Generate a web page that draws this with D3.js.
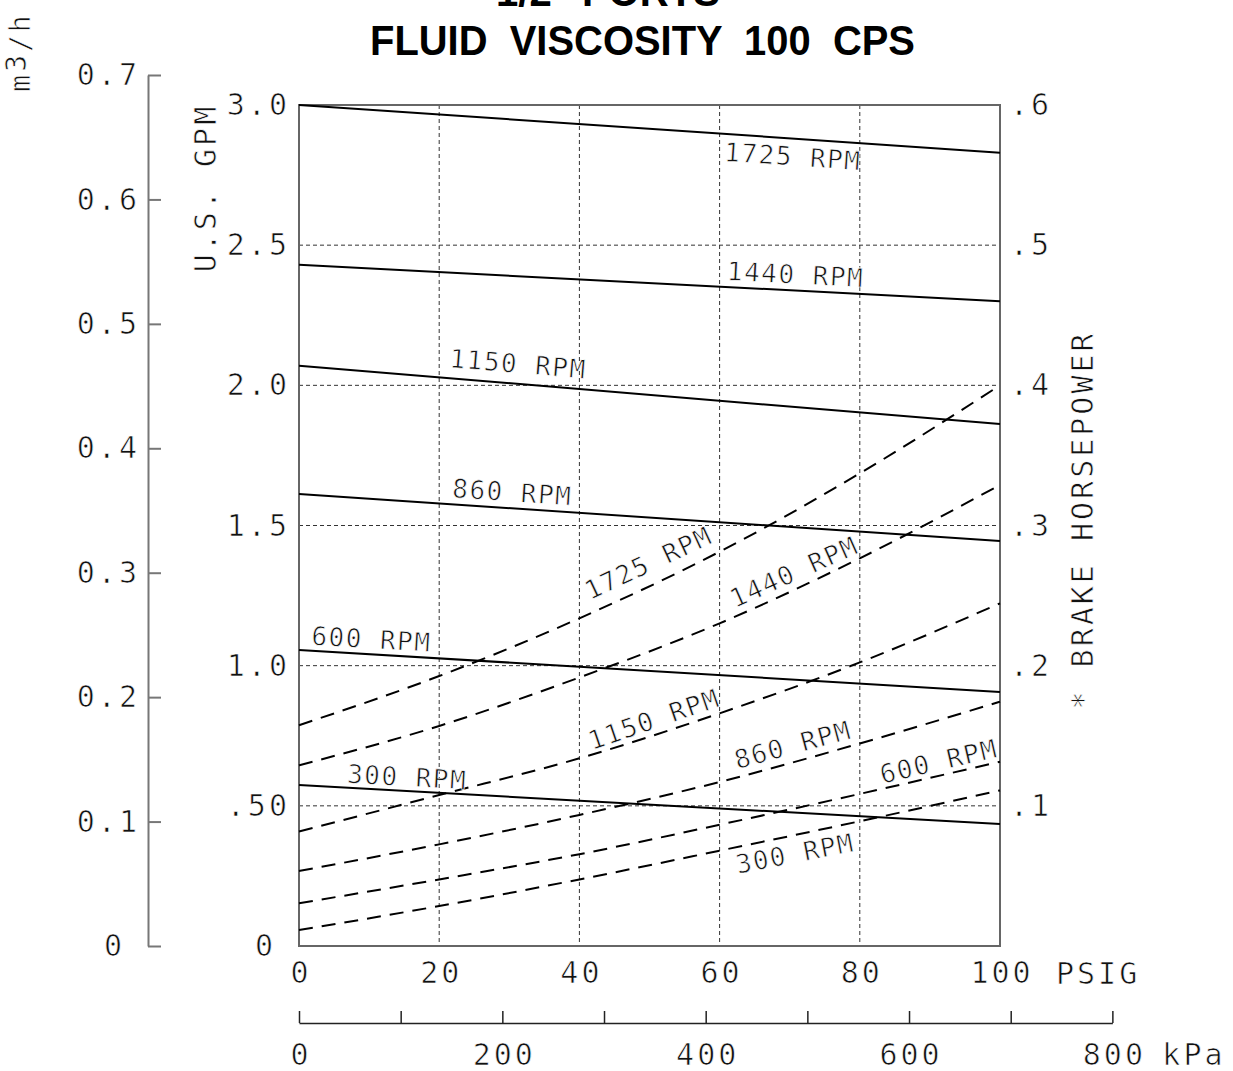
<!DOCTYPE html>
<html>
<head>
<meta charset="utf-8">
<script src="https://cdn.jsdelivr.net/npm/d3@7"></script>
<style>
  html, body { margin: 0; padding: 0; background: #fff; }
  svg { display: block; }
  .lbl { font-family: "DejaVu Sans Mono", "Liberation Mono", monospace; fill: #111;
         stroke: #fff; stroke-width: 0.7px; paint-order: fill stroke; }
</style>
</head>
<body>
<svg id="chart" width="1233" height="1071"></svg>
<script>
// ---------------- data ----------------
const titleLines = ['1/2" PORTS', 'FLUID  VISCOSITY  100  CPS'];
const rpmNames = ["1725", "1440", "1150", "860", "600", "300"];
// capacity (U.S. GPM) straight lines, value at 0 psi and 100 psi
const flowPsi = [0, 100];
const flow1725 = [3.00, 2.83];
const flow1440 = [2.43, 2.30];
const flow1150 = [2.07, 1.862];
const flow860  = [1.612, 1.445];
const flow600  = [1.056, 0.906];
const flow300  = [0.574, 0.435];
// brake horsepower curves
const hpPsi = [0, 20, 40, 60, 80, 100];
const hp1725 = [0.1575, 0.1926, 0.2338, 0.2813, 0.3372, 0.400];
const hp1440 = [0.1289, 0.1570, 0.1916, 0.2302, 0.2766, 0.3289];
const hp1150 = [0.0817, 0.1077, 0.1339, 0.1660, 0.2023, 0.2445];
const hp860  = [0.0535, 0.0725, 0.0935, 0.1170, 0.1445, 0.1743];
const hp600  = [0.0305, 0.0475, 0.0655, 0.0865, 0.1085, 0.1315];
const hp300  = [0.0114, 0.0285, 0.0475, 0.0680, 0.0890, 0.1110];
// axes
const psiTicks = [0, 20, 40, 60, 80, 100];
const psiGrid = [20, 40, 60, 80];
const gpmTicks = [0, 0.5, 1.0, 1.5, 2.0, 2.5, 3.0];
const gpmTickLabels = ["0", ".50", "1.0", "1.5", "2.0", "2.5", "3.0"];
const gpmGrid = [0.5, 1.0, 1.5, 2.0, 2.5];
const hpTicks = [0.1, 0.2, 0.3, 0.4, 0.5, 0.6];
const hpTickLabels = [".1", ".2", ".3", ".4", ".5", ".6"];
const m3Ticks = [0, 0.1, 0.2, 0.3, 0.4, 0.5, 0.6, 0.7];
const m3TickLabels = ["0", "0.1", "0.2", "0.3", "0.4", "0.5", "0.6", "0.7"];
const kpaTicks = [0, 100, 200, 300, 400, 500, 600, 700, 800];
const kpaLabelled = [0, 200, 400, 600, 800];
const KPA_PER_PSI = 6.89476;

// ---------------- drawing ----------------
const flows = [flow1725, flow1440, flow1150, flow860, flow600, flow300];
const hps = [hp1725, hp1440, hp1150, hp860, hp600, hp300];

const svg = d3.select("#chart");
const L = 299, R = 1000, T = 105, B = 946;
const x = d3.scaleLinear().domain([0, 100]).range([L, R]);
const y = d3.scaleLinear().domain([0, 3]).range([B, T]);
const yHP = d3.scaleLinear().domain([0, 0.6]).range([B, T]);
const yM3 = d3.scaleLinear().domain([0, 0.7]).range([B, 75]);
const xKPa = d3.scaleLinear().domain([0, 800]).range([L, L + 800 * (R - L) / (100 * KPA_PER_PSI)]);

const FS = 30, LS = 3;

function styleAxisText(g, size, ls) {
  g.selectAll("text").attr("class", "lbl")
    .attr("font-size", size).attr("letter-spacing", ls).attr("fill", "#111");
}

// grid
const grid = svg.append("g").attr("stroke", "#333").attr("stroke-width", 1).attr("stroke-dasharray", "4,3");
grid.selectAll("line.h").data(gpmGrid).join("line")
  .attr("x1", L).attr("x2", R).attr("y1", d => y(d)).attr("y2", d => y(d));
grid.selectAll("line.v").data(psiGrid).join("line")
  .attr("x1", d => x(d)).attr("x2", d => x(d)).attr("y1", T).attr("y2", B);

// frame
svg.append("rect").attr("x", L).attr("y", T).attr("width", R - L).attr("height", B - T)
  .attr("fill", "none").attr("stroke", "#666").attr("stroke-width", 2);

// GPM axis (labels only)
const gAx = svg.append("g").attr("transform", `translate(${L},0)`)
  .call(d3.axisLeft(y).tickValues(gpmTicks).tickSize(0).tickPadding(9)
    .tickFormat((d, i) => gpmTickLabels[i]));
gAx.select(".domain").remove();
styleAxisText(gAx, FS, LS);
gAx.selectAll("text").filter(d => d === 0).attr("dx", -14);

// HP axis (labels only)
const hAx = svg.append("g").attr("transform", `translate(${R},0)`)
  .call(d3.axisRight(yHP).tickValues(hpTicks).tickSize(0).tickPadding(10)
    .tickFormat((d, i) => hpTickLabels[i]));
hAx.select(".domain").remove();
styleAxisText(hAx, FS, LS);

// m3/h axis
const mAx = svg.append("g").attr("transform", "translate(148,0)")
  .call(d3.axisLeft(yM3).tickValues(m3Ticks).tickSizeInner(-13).tickSizeOuter(0).tickPadding(8)
    .tickFormat((d, i) => m3TickLabels[i]));
mAx.select(".domain").attr("stroke", "#777").attr("stroke-width", 2);
mAx.selectAll(".tick line").attr("stroke", "#777").attr("stroke-width", 2);
styleAxisText(mAx, FS, LS);
mAx.selectAll("text").filter(d => d === 0).attr("dx", -15);

// PSIG axis (labels only)
const pAx = svg.append("g").attr("transform", `translate(0,${B})`)
  .call(d3.axisBottom(x).tickValues(psiTicks).tickSize(0).tickPadding(16).tickFormat(d3.format("d")));
pAx.select(".domain").remove();
styleAxisText(pAx, FS, LS);
pAx.selectAll("text").attr("dx", LS / 2);
svg.append("text").attr("class", "lbl").attr("font-size", FS).attr("letter-spacing", LS)
  .attr("x", x(100) + 56).attr("y", B + 38).text("PSIG");

// kPa axis
const kAx = svg.append("g").attr("transform", "translate(0,1023)")
  .call(d3.axisBottom(xKPa).tickValues(kpaTicks).tickSizeInner(-12).tickSizeOuter(0).tickPadding(21)
    .tickFormat(d => kpaLabelled.includes(d) ? d3.format("d")(d) : ""));
kAx.select(".domain").attr("stroke", "#222").attr("stroke-width", 1.5);
kAx.selectAll(".tick line").attr("stroke", "#222").attr("stroke-width", 1.5);
styleAxisText(kAx, FS, LS);
kAx.selectAll("text").attr("dx", LS / 2);
svg.append("text").attr("class", "lbl").attr("font-size", FS).attr("letter-spacing", LS)
  .attr("x", xKPa(800) + 50).attr("y", 1023 + 42).text("kPa");

// rotated axis titles
svg.append("text").attr("class", "lbl").attr("font-size", FS).attr("letter-spacing", LS)
  .attr("text-anchor", "middle").attr("transform", "translate(216,188) rotate(-90)").text("U.S. GPM");
svg.append("text").attr("class", "lbl").attr("font-size", FS).attr("letter-spacing", LS)
  .attr("text-anchor", "middle").attr("transform", "translate(1093,520) rotate(-90)").text("* BRAKE HORSEPOWER");
const m3t = svg.append("text").attr("class", "lbl").attr("font-size", 28).attr("letter-spacing", LS)
  .attr("text-anchor", "middle").attr("transform", "translate(30,52) rotate(-90)");
m3t.append("tspan").text("m");
m3t.append("tspan").attr("dy", -4).text("3");
m3t.append("tspan").attr("dy", 4).text("/h");

// titles
svg.append("text").attr("x", 370).attr("y", 55)
  .attr("font-family", "'Liberation Sans Narrow', 'Liberation Sans', Arial, sans-serif")
  .attr("font-weight", "bold").attr("font-size", 42).attr("fill", "#000")
  .attr("textLength", 545).attr("lengthAdjust", "spacingAndGlyphs")
  .style("white-space", "pre").text(titleLines[1]);
svg.append("text").attr("x", 496).attr("y", 6)
  .attr("font-family", "'Liberation Sans Narrow', 'Liberation Sans', Arial, sans-serif")
  .attr("font-weight", "bold").attr("font-size", 42).attr("fill", "#000")
  .attr("textLength", 224).attr("lengthAdjust", "spacingAndGlyphs")
  .style("white-space", "pre").text(titleLines[0]);

// capacity lines
const lineGen = d3.line().x(d => x(d[0])).y(d => y(d[1]));
svg.append("g").selectAll("path").data(flows).join("path")
  .attr("d", f => lineGen(flowPsi.map((p, i) => [p, f[i]])))
  .attr("fill", "none").attr("stroke", "#000").attr("stroke-width", 2);

// horsepower curves
const hpGen = d3.line().curve(d3.curveMonotoneX).x(d => x(d[0])).y(d => yHP(d[1]));
svg.append("g").selectAll("path").data(hps).join("path")
  .attr("d", h => hpGen(hpPsi.map((p, i) => [p, h[i]])))
  .attr("fill", "none").attr("stroke", "#000").attr("stroke-width", 2).attr("stroke-dasharray", "14,9");

// labels
function flowAt(f, p) { return f[0] + (f[1] - f[0]) * (p - flowPsi[0]) / (flowPsi[1] - flowPsi[0]); }
function hpAt(h, p) { return d3.scaleLinear().domain(hpPsi).range(h)(p); }

const flowLabelSpec = [
  { psi: 60.6, dy: 27 }, { psi: 61.0, dy: -7 }, { psi: 21.4, dy: -11 },
  { psi: 21.8, dy: -7 }, { psi: 1.7, dy: -6 }, { psi: 6.8, dy: -5 }
];
flowLabelSpec.forEach((s, i) => {
  const f = flows[i];
  const px = x(s.psi), py = y(flowAt(f, s.psi)) + s.dy;
  const ang = Math.atan2(y(f[1]) - y(f[0]), x(100) - x(0)) * 180 / Math.PI;
  svg.append("text").attr("class", "lbl").attr("font-size", 26).attr("letter-spacing", 1.5)
    .attr("transform", `translate(${px},${py}) rotate(${ang})`)
    .style("white-space", "pre").text(rpmNames[i] + " RPM");
});

const hpLabelSpec = [
  { psi: 41.5, dy: -13, ang: -25 }, { psi: 62.2, dy: -8, ang: -24 }, { psi: 41.8, dy: -4, ang: -19 },
  { psi: 62.5, dy: -8, ang: -15 }, { psi: 83.2, dy: -5, ang: -13 }, { psi: 62.6, dy: 27, ang: -11 }
];
hpLabelSpec.forEach((s, i) => {
  const h = hps[i];
  const px = x(s.psi), py = yHP(hpAt(h, s.psi)) + s.dy;
  svg.append("text").attr("class", "lbl").attr("font-size", 26).attr("letter-spacing", 1.5)
    .attr("transform", `translate(${px},${py}) rotate(${s.ang})`)
    .style("white-space", "pre").text(rpmNames[i] + " RPM");
});
</script>
</body>
</html>
